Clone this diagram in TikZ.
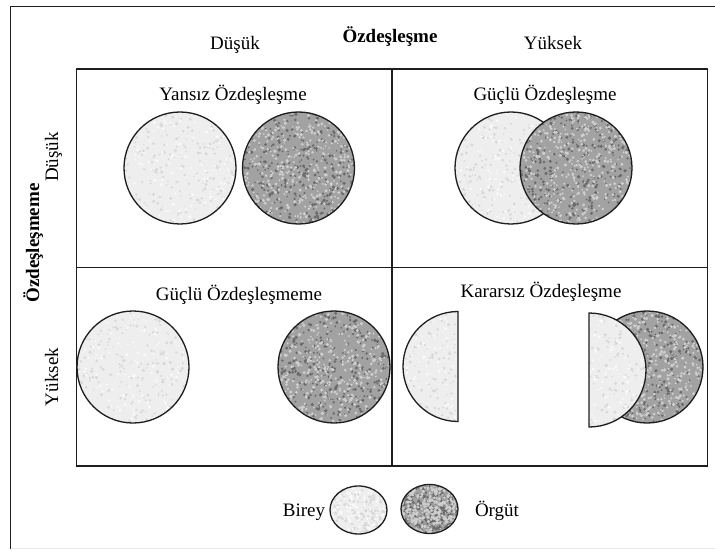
\documentclass[tikz,border=0pt]{standalone}
\usepackage{fontspec}
\setmainfont{Liberation Serif}
\definecolor{lightbase}{HTML}{EEEEEE}
\definecolor{lightspk}{HTML}{D8D8D8}
\definecolor{lightwht}{HTML}{FAFAFA}
\definecolor{darkbase}{HTML}{A2A2A2}
\definecolor{darkspk}{HTML}{6A6A6A}
\definecolor{darklite}{HTML}{CFCFCF}
\definecolor{linecol}{HTML}{1E1E1E}
% textures on square region centred (#1,#2), half-side #3
\newcommand{\lighttexture}[3]{%
  \fill[lightbase] ({#1-#3},{#2-#3}) rectangle ({#1+#3},{#2+#3});
  \foreach \k in {1,...,220}{%
    \pgfmathsetmacro\rr{0.7+1.0*rnd}%
    \fill[lightspk] ({#1+rand*#3},{#2+rand*#3}) circle[radius=\rr pt];}
  \foreach \k in {1,...,160}{%
    \pgfmathsetmacro\rr{0.7+1.0*rnd}%
    \fill[lightwht] ({#1+rand*#3},{#2+rand*#3}) circle[radius=\rr pt];}
}
\newcommand{\darktexture}[3]{%
  \fill[darkbase] ({#1-#3},{#2-#3}) rectangle ({#1+#3},{#2+#3});
  \foreach \k in {1,...,380}{%
    \pgfmathsetmacro\rr{0.8+1.0*rnd}%
    \fill[darkspk] ({#1+rand*#3},{#2+rand*#3}) circle[radius=\rr pt];}
  \foreach \k in {1,...,440}{%
    \pgfmathsetmacro\rr{0.8+1.0*rnd}%
    \fill[darklite] ({#1+rand*#3},{#2+rand*#3}) circle[radius=\rr pt];}
}
\begin{document}
\begin{tikzpicture}[x=1pt,y=1pt,
  lbl/.style={font=\fontsize{19}{22}\selectfont, inner sep=0pt, anchor=base},
  blbl/.style={font=\fontsize{19}{22}\selectfont\bfseries, inner sep=0pt, anchor=base},
  frame/.style={line width=1.5pt, draw=linecol},
  rim/.style={line width=1.3pt, draw=linecol}]
\pgfmathsetseed{7}
\useasboundingbox (0,0) rectangle (715,550);
\fill[white] (0,0) rectangle (715,550);
% outer border
\draw[frame] (10.5,1) -- (10.5,543.5) -- (715,543.5);
\draw[gray!18, line width=1pt] (10.5,1.5) -- (715,1.5);
% grid
\draw[frame] (76.5,84) rectangle (707.5,481);
\draw[frame] (392,84) -- (392,481);
\draw[frame] (76.5,282.5) -- (707.5,282.5);
% header texts
\node[lbl] (hlow) at (235,500) {Düşük};
\node[blbl] (htitle) at (390,507) {Özdeşleşme};
\node[lbl] (hhigh) at (553,500) {Yüksek};
% side texts
\node[lbl, rotate=90] (slow) at (58,393) {Düşük};
\node[blbl, rotate=90] (stitle) at (39,307) {Özdeşleşmeme};
\node[lbl, rotate=90] (shigh) at (58,173) {Yüksek};
% panel titles
\node[lbl] (t1) at (233,449) {Yansız Özdeşleşme};
\node[lbl] (t2) at (545,449) {Güçlü Özdeşleşme};
\node[lbl] (t3) at (239,250) {Güçlü Özdeşleşmeme};
\node[lbl] (t4) at (541,253) {Kararsız Özdeşleşme};
% ---- panel 1
\begin{scope}\clip (180,382) circle[radius=56pt]; \lighttexture{180}{382}{56}\end{scope}
\draw[rim] (180,382) circle[radius=56pt];
\begin{scope}\clip (298.5,382) circle[radius=56pt]; \darktexture{298.5}{382}{56}\end{scope}
\draw[rim] (298.5,382) circle[radius=56pt];
% ---- panel 2
\begin{scope}\clip (511,382) circle[radius=56pt]; \lighttexture{511}{382}{56}\end{scope}
\draw[rim] (511,382) circle[radius=56pt];
\begin{scope}\clip (576,382) circle[radius=56pt]; \darktexture{576}{382}{56}\end{scope}
\draw[rim] (576,382) circle[radius=56pt];
% ---- panel 3
\begin{scope}\clip (133,183) circle[radius=56pt]; \lighttexture{133}{183}{56}\end{scope}
\draw[rim] (133,183) circle[radius=56pt];
\begin{scope}\clip (334,183) circle[radius=56pt]; \darktexture{334}{183}{56}\end{scope}
\draw[rim] (334,183) circle[radius=56pt];
% ---- panel 4
\begin{scope}\clip (458,238.5) arc[start angle=90, end angle=270, radius=55pt] -- cycle; \lighttexture{458}{183.5}{55}\end{scope}
\draw[rim] (458,238.5) arc[start angle=90, end angle=270, radius=55pt] -- cycle;
\begin{scope}\clip (647,183) circle[radius=56pt]; \darktexture{647}{183}{56}\end{scope}
\draw[rim] (647,183) circle[radius=56pt];
\begin{scope}\clip (589,237) arc[start angle=90, end angle=-90, radius=57pt] -- cycle; \lighttexture{589}{180}{57}\end{scope}
\draw[rim] (589,237) arc[start angle=90, end angle=-90, radius=57pt] -- cycle;
% ---- legend
\begin{scope}\clip (358.5,40) ellipse[x radius=28.5pt, y radius=24pt]; \lighttexture{358.5}{40}{29}\end{scope}
\draw[rim] (358.5,40) ellipse[x radius=28.5pt, y radius=24pt];
\begin{scope}\clip (429.5,41) ellipse[x radius=28.5pt, y radius=24.5pt]; \darktexture{429.5}{41}{29}\end{scope}
\draw[rim] (429.5,41) ellipse[x radius=28.5pt, y radius=24.5pt];
\node[lbl] (lb) at (304,34) {Birey};
\node[lbl] (lo) at (497,34) {Örgüt};
\end{tikzpicture}
\end{document}
